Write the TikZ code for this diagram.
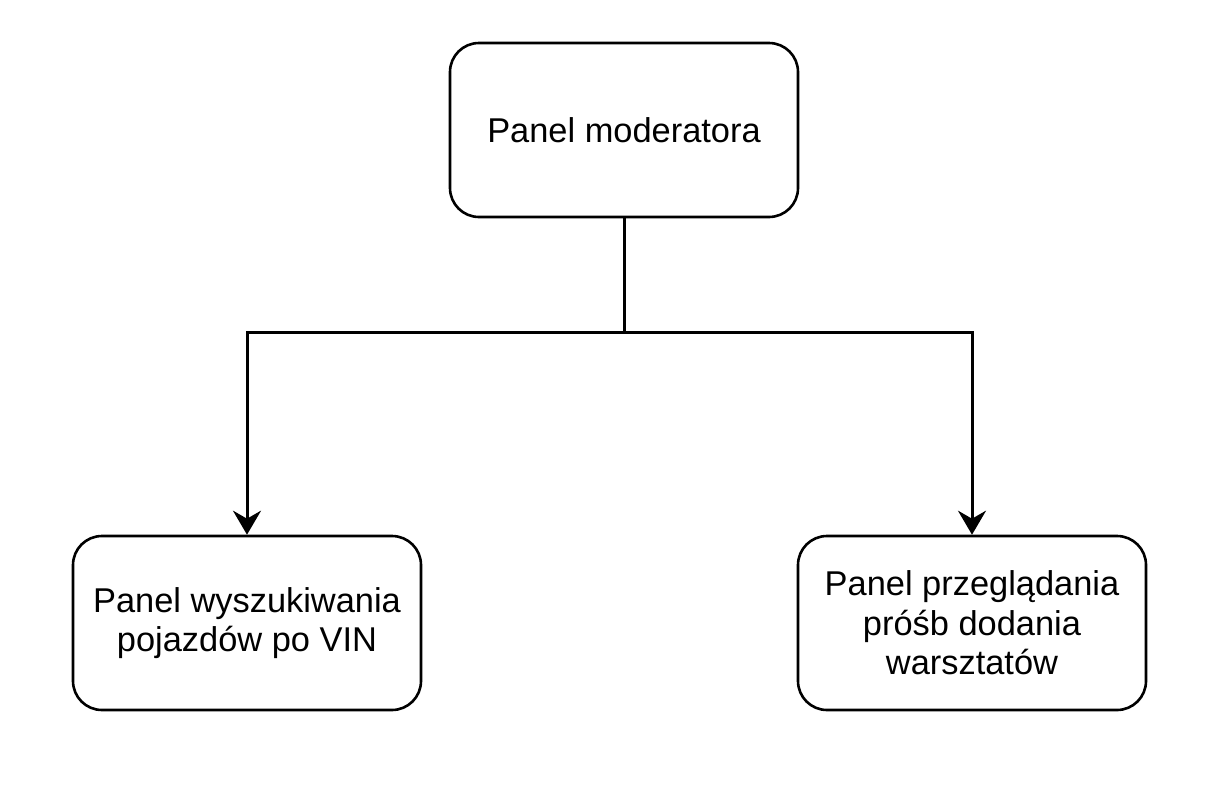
\documentclass[tikz,border=0pt]{standalone}
\usepackage{fontspec}
\setmainfont{Liberation Sans}
\usetikzlibrary{arrows.meta}
\begin{document}
\begin{tikzpicture}[x=1pt,y=-1pt,
  box/.style={draw=black, line width=2.6pt, rounded corners=29pt, minimum width=348pt, minimum height=174pt, align=center, font=\fontsize{34.4}{39.5}\selectfont, inner sep=0pt},
  conn/.style={line width=3pt, -{Stealth[length=24pt,width=28pt,inset=8pt]}}]
\useasboundingbox (0,0) rectangle (1221,785);
\node[box] (top) at (624,130) {Panel moderatora};
\node[box] (left) at (247,623) {Panel wyszukiwania\\pojazdów po VIN};
\node[box] (right) at (972,623) {Panel przeglądania\\próśb dodania\\warsztatów};
\coordinate (split) at (624,332);
\draw[conn] (top.south) -- (split) -| (left.north);
\draw[conn] (split) -| (right.north);
\end{tikzpicture}
\end{document}
